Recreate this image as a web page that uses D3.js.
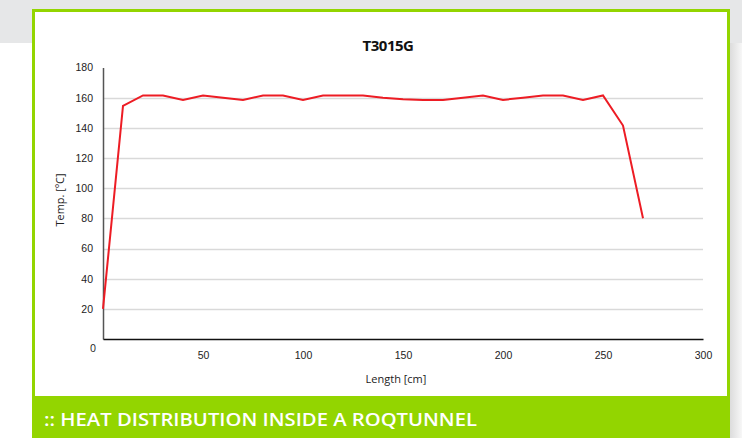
<!DOCTYPE html>
<html>
<head>
<meta charset="utf-8">
<script src="https://cdn.jsdelivr.net/npm/d3@7"></script>
<style>
  body { margin: 0; background: #fff; }
  .chart { position: relative; width: 742px; height: 438px; overflow: hidden; }
</style>
</head>
<body>
<div class="chart"></div>
<script>
var lengths = [0, 10, 20, 30, 40, 50, 60, 70, 80, 90, 100, 110, 120, 130, 140,
               150, 160, 170, 180, 190, 200, 210, 220, 230, 240, 250, 260, 270];
var temps = [20, 154.5, 161.5, 161.5, 158.5, 161.5, 160, 158.5, 161.5, 161.5, 158.5, 161.5, 161.5, 161.5, 160,
             159, 158.5, 158.5, 160, 161.5, 158.5, 160, 161.5, 161.5, 158.5, 161.5, 141.5, 80];
var xTicks = [50, 100, 150, 200, 250, 300];
var yTicks = [20, 40, 60, 80, 100, 120, 140, 160, 180];

var W = 742, H = 438;
var green = "#93d500";

var svg = d3.select(".chart").append("svg")
    .attr("width", W)
    .attr("height", H);

// page background: gray band, shadow on the right
var defs = svg.append("defs");
var grad = defs.append("linearGradient").attr("id", "shadow");
grad.append("stop").attr("offset", "0%").attr("stop-color", "#dcdcdc");
grad.append("stop").attr("offset", "100%").attr("stop-color", "#f7f7f7");

svg.append("rect").attr("x", 0).attr("y", 0).attr("width", W).attr("height", 43).attr("fill", "#e6e7e8");
svg.append("rect").attr("x", 730).attr("y", 43).attr("width", 12).attr("height", H - 43).attr("fill", "url(#shadow)");

// card
svg.append("rect")
    .attr("x", 33.5).attr("y", 10.5)
    .attr("width", 695).attr("height", 440)
    .attr("fill", "#fff")
    .attr("stroke", green)
    .attr("stroke-width", 3);

// footer band
svg.append("rect")
    .attr("x", 32).attr("y", 396)
    .attr("width", 698).attr("height", 42)
    .attr("fill", green);
svg.append("text")
    .attr("x", 44).attr("y", 426)
    .attr("fill", "#fff")
    .attr("textLength", 433)
    .attr("lengthAdjust", "spacingAndGlyphs")
    .style("font-family", "'Open Sans', sans-serif")
    .style("font-size", "18px")
    .style("font-weight", "600")
    .text(":: HEAT DISTRIBUTION INSIDE A ROQTUNNEL");

// scales
var x = d3.scaleLinear().domain([0, 300]).range([103, 703]);
var y = d3.scaleLinear().domain([0, 180]).range([339, 67.5]);

var g = svg.append("g").style("font-family", "'Open Sans', sans-serif");

// gridlines
g.append("g")
    .selectAll("line")
    .data(yTicks.filter(function(d) { return d < 180; }))
    .enter().append("line")
    .attr("x1", x(0)).attr("x2", x(300))
    .attr("y1", function(d) { return Math.round(y(d)) + 0.5; })
    .attr("y2", function(d) { return Math.round(y(d)) + 0.5; })
    .attr("stroke", "#d9d9d9")
    .attr("stroke-width", 1.3);

// y axis
var yAxis = g.append("g")
    .attr("transform", "translate(" + x(0) + ",0)")
    .call(d3.axisLeft(y).tickValues(yTicks).tickSize(0).tickPadding(10));
yAxis.select(".domain").attr("stroke", "#555").attr("stroke-width", 1.5);
yAxis.selectAll("text").attr("fill", "#222").style("font-size", "10.5px");

// origin label
g.append("text")
    .attr("x", 93).attr("y", 352)
    .attr("text-anchor", "middle")
    .attr("fill", "#222")
    .style("font-size", "10.5px")
    .text("0");

// x axis
var xAxis = g.append("g")
    .attr("transform", "translate(0," + y(0) + ")")
    .call(d3.axisBottom(x).tickValues(xTicks).tickSize(0).tickPadding(13));
xAxis.select(".domain").attr("stroke", "#111").attr("stroke-width", 1.5);
xAxis.selectAll("text").attr("fill", "#222").style("font-size", "10.5px");

// axis titles
g.append("text")
    .attr("transform", "translate(64," + 200 + ") rotate(-90)")
    .attr("text-anchor", "middle")
    .attr("fill", "#222")
    .style("font-size", "11px")
    .text("Temp. [ºC]");

g.append("text")
    .attr("x", 396).attr("y", 383)
    .attr("text-anchor", "middle")
    .attr("fill", "#222")
    .style("font-size", "11px")
    .text("Length [cm]");

// title
g.append("text")
    .attr("x", 388).attr("y", 51)
    .attr("text-anchor", "middle")
    .attr("fill", "#111")
    .style("font-size", "15px")
    .style("font-weight", "bold")
    .style("letter-spacing", "-0.5px")
    .text("T3015G");

// line
var line = d3.line()
    .x(function(d, i) { return x(lengths[i]); })
    .y(function(d) { return y(d); });

g.append("path")
    .datum(temps)
    .attr("d", line)
    .attr("fill", "none")
    .attr("stroke", "#ed1c24")
    .attr("stroke-width", 2)
    .attr("stroke-linejoin", "miter");
</script>
</body>
</html>
